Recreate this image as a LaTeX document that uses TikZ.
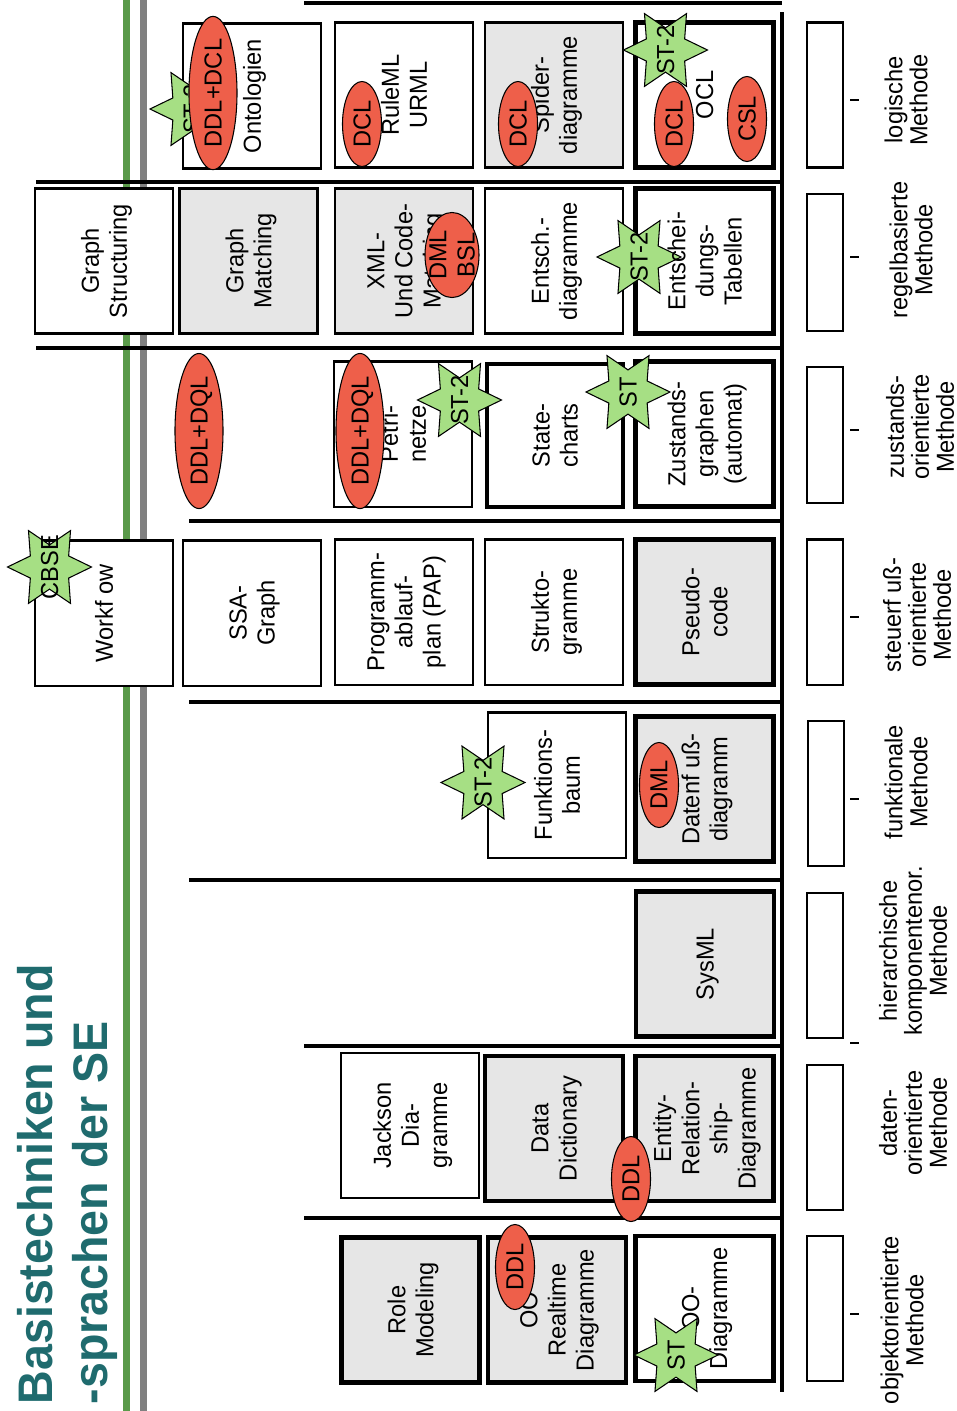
\documentclass[tikz,border=0pt]{standalone}
\usepackage{fontspec}
\setmainfont[FakeStretch=0.96]{Liberation Sans}
\usetikzlibrary{shapes.geometric}

\definecolor{titleteal}{HTML}{1F6B6E}
\definecolor{barggreen}{HTML}{5A9A4A}
\definecolor{bargrey}{HTML}{808080}
\definecolor{cellgrey}{HTML}{E6E6E6}
\definecolor{stargreen}{HTML}{A6DF84}
\definecolor{markred}{HTML}{EE5F4A}

\tikzset{
    lbl/.style={font=\fontsize{7}{8}\selectfont, align=center, rotate=90, inner sep=0pt, text depth=0pt},
    rowlbl/.style={lbl, font=\fontsize{7}{7.1}\selectfont},
    cell/.style={lbl, draw, fill=white, line width=0.6pt, minimum width=1.45cm, minimum height=1.38cm},
    cellgr/.style={cell, fill=cellgrey},
    cellthick/.style={cell, line width=1.25pt},
    cellthickgr/.style={cellgr, line width=1.25pt},
    slot/.style={cell, minimum height=0.36cm},
    starmark/.style={lbl, star, star points=6, star point ratio=1.9, draw, line width=0.3pt, fill=stargreen, minimum size=0.84cm},
    redmark/.style={lbl, ellipse, draw, line width=0.3pt, fill=markred, minimum height=0.39cm, minimum width=0.85cm},
    redlong/.style={redmark, minimum height=0.48cm, minimum width=1.46cm},
}

\begin{document}
\begin{tikzpicture}[x=0.01cm,y=-0.01cm]

    \useasboundingbox (0,0) rectangle (957,1411);

    \fill[barggreen] (123,0) rectangle (130,1411);
    \fill[bargrey] (140,0) rectangle (147,1411);

    \node[lbl, anchor=west, align=left, text=titleteal, font=\fontsize{13.8}{15.6}\selectfont\bfseries] (title) at (62,1405) {Basistechniken und\\-sprachen der SE};

    % logische Methode
    \node[cell] (onto) at (252,96) {Ontologien};
    \node[cell] (ruleml) at (404,95) {RuleML\\URML};
    \node[cellgr] (spider) at (554,95) {Spider-\\diagramme};
    \node[cellthick] (ocl) at (704.5,95) {OCL};

    % regelbasierte Methode
    \node[cell] (gstruct) at (104,261) {Graph\\Structuring};
    \node[cellgr] (gmatch) at (248.5,261) {Graph\\Matching};
    \node[cellgr] (xmlcode) at (404,261) {XML-\\Und Code-\\Matching};
    \node[cell] (entsch) at (554,261) {Entsch.-\\diagramme};
    \node[cellthick] (enttab) at (704.5,261) {};

    % zustandsorientierte Methode
    \node[cell] (petri) at (403,434) {Petri-\\netze};
    \node[cellthick, minimum height=1.36cm, minimum width=1.43cm] (state) at (555,435.5) {State-\\charts};
    \node[cellthick] (zustand) at (704.5,434) {Zustands-\\graphen\\(automat)};

    % steuerflussorientierte Methode
    \node[cell] (workflow) at (104,613) {Workf ow};
    \node[cell] (ssa) at (252,613) {SSA-\\Graph};
    \node[cell] (pap) at (404,612) {Programm-\\ablauf-\\plan (PAP)};
    \node[cell] (strukto) at (554,612) {Strukto-\\gramme};
    \node[cellthickgr] (pseudo) at (704.5,612) {Pseudo-\\code};

    % funktionale Methode
    \node[cell] (funkt) at (557,785) {Funktions-\\baum};
    \node[cellthickgr] (datenfl) at (704.5,789) {Datenf uß-\\diagramm};

    % hierarchische Methode
    \node[cellthickgr] (sysml) at (705,964) {SysML};

    % datenorientierte Methode
    \node[cell] (jackson) at (410,1125.5) {Jackson\\Dia-\\gramme};
    \node[cellthickgr] (datadict) at (554,1128.5) {Data\\Dictionary};
    \node[cellthickgr] (erd) at (704.5,1128.5) {Entity-\\Relation-\\ship-\\Diagramme};

    % objektorientierte Methode
    \node[cellthickgr] (role) at (410.5,1310) {Role\\Modeling};
    \node[cellthickgr] (realtime) at (557,1310) {OO\\Realtime\\Diagramme};
    \node[cellthick] (oodia) at (704.5,1308.5) {OO-\\Diagramme};

    % separators
    \foreach \y/\xa in {3/304,182/36,348/36,521/189,702/189,880/189,1046/304,1218/304}
        \draw[line width=1pt] (\xa,\y) -- (782,\y);
    \draw[line width=1.2pt] (782,12) -- (782,1392);

    % right column
    \node[slot] (slota) at (825,95) {};
    \node[slot, minimum width=1.37cm] (slotb) at (825,262.5) {};
    \node[slot, minimum width=1.36cm] (slotc) at (825,435) {};
    \node[slot] (slotd) at (825,612) {};
    \node[slot] (slote) at (826,793.5) {};
    \node[slot] (slotf) at (825,965.5) {};
    \node[slot] (slotg) at (825,1137.5) {};
    \node[slot] (sloth) at (825,1308.5) {};

    \foreach \y in {100,257,430,617,799,1043,1314} \draw[line width=0.5pt] (850,\y) -- (859,\y);

    \node[rowlbl] (loglbl) at (906,100) {logische\\Methode};
    \node[rowlbl] (regellbl) at (911,250) {regelbasierte\\Methode};
    \node[rowlbl] (zustlbl) at (920,427) {zustands-\\orientierte\\Methode};
    \node[rowlbl] (steuerlbl) at (917,615) {steuerf uß-\\orientierte\\Methode};
    \node[rowlbl] (funklbl) at (906,782) {funktionale\\Methode};
    \node[rowlbl] (hierlbl) at (913,951) {hierarchische\\komponentenor.\\Methode};
    \node[rowlbl] (datenlbl) at (913,1123) {daten-\\orientierte\\Methode};
    \node[rowlbl] (objlbl) at (902,1320) {objektorientierte\\Methode};

    % stars
    \foreach \name/\px/\py/\txt in {staronto/192/109/ST-2,starcbse/49.5/567/CBSE,starpetri/459.5/400/ST-2,starent/639/257/ST-2,starocl/665.5/50/ST-2,starzust/628/392/ST,starfunkt/483/782.5/ST-2,staroo/676/1355/ST} {
        \node[starmark] (\name) at (\px,\py) {};
        \node[lbl] (\name text) at (\name) {\txt};
    }

    \node[lbl] (enttext) at (enttab) {Entschei-\\dungs-\\Tabellen};

    % languages
    \node[redlong] (ddldcl) at (213,93) {DDL+DCL};
    \node[redmark] (dclrule) at (362,124) {DCL};
    \node[redmark] (dclspider) at (518,124) {DCL};
    \node[redmark] (dclocl) at (674,124) {DCL};
    \node[redmark] (csl) at (747,119) {CSL};
    \node[redmark, minimum height=0.54cm] (dmlbsl) at (452,255) {};
    \node[lbl] (dmlbsltext) at (dmlbsl) {DML\\BSL};
    \node[redlong] (ddldqla) at (199,431) {DDL+DQL};
    \node[redlong] (ddldqlb) at (360,431) {DDL+DQL};
    \node[redmark] (dmlflow) at (659,785) {DML};
    \node[redmark] (ddlerd) at (631,1179) {DDL};
    \node[redmark] (ddloo) at (515,1267) {DDL};

\end{tikzpicture}
\end{document}
